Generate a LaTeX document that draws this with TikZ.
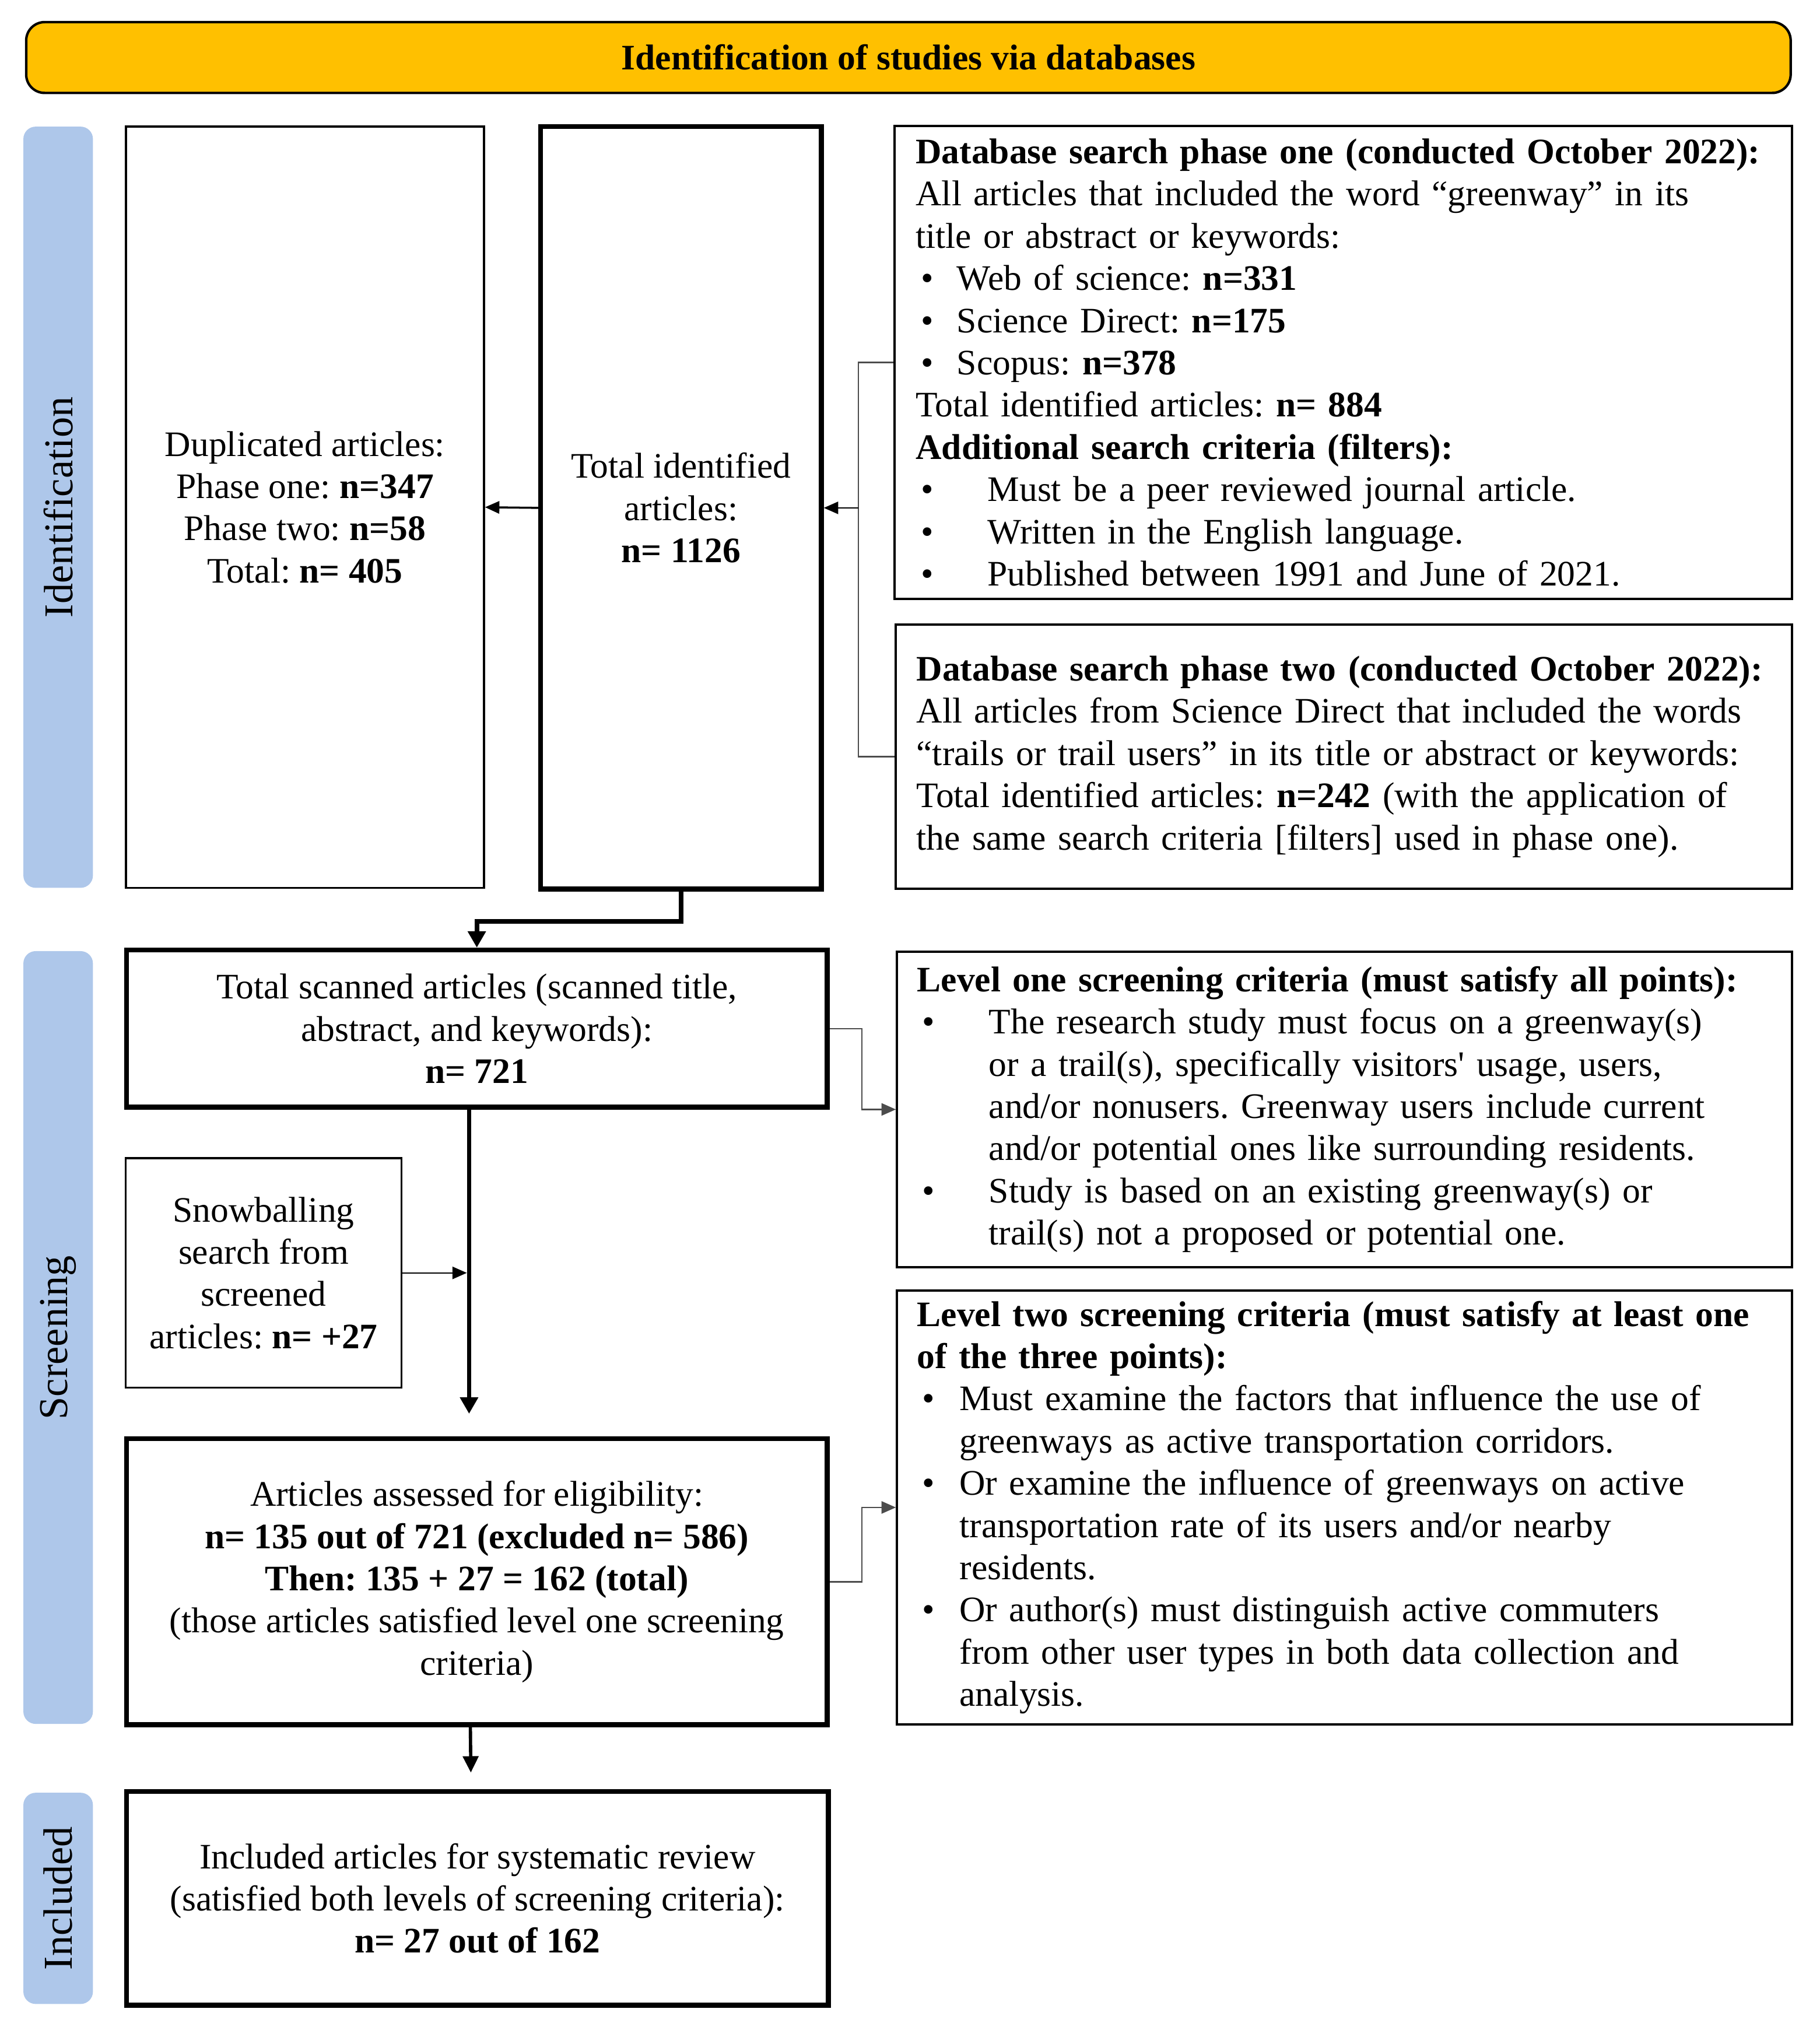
\documentclass[tikz,border=0pt]{standalone}
\usepackage{fontspec}
\setmainfont{Liberation Serif}
\usepackage{tikz}
\usetikzlibrary{calc}
\usetikzlibrary{arrows.meta}
\definecolor{headgold}{RGB}{255,192,0}
\definecolor{stageblue}{RGB}{174,199,234}
\newcommand{\fs}{\fontsize{17.5}{20.6}\selectfont\frenchspacing}
\newcommand{\stagefs}{\fontsize{20}{22}\selectfont}
\newcommand{\bul}[2]{\par\noindent\hangindent=#1\hangafter=1\makebox[#1][l]{\hspace{2.5pt}\textbullet}#2\par}

\begin{document}
\begin{tikzpicture}[x=0.02216cm, y=-0.02216cm,
  box/.style={draw, line width=1pt, inner sep=0pt, align=center, font=\fs},
  heavybox/.style={box, line width=2.4pt},
  listbox/.style={box, line width=1.1pt, text width=417pt, align=left},
  headbar/.style={draw, line width=1.2pt, fill=headgold, rounded corners=9pt, inner sep=0pt, font=\fs\bfseries},
  stage/.style={fill=stageblue, rounded corners=6pt, rotate=90, inner sep=0pt, font=\stagefs},
  link/.style={draw=black!70, line width=0.7pt},
  linkarrow/.style={-{Triangle[length=7pt,width=6pt]}},
  heavyline/.style={line width=2.2pt, -{Triangle[length=8pt,width=8.5pt]}}]
\def\px{0.6283pt}
\useasboundingbox (0,0) rectangle (1408,1576.3);
% Header bar
\node[headbar, minimum width=1370*\px, minimum height=55*\px] (head) at (703,44.5) {Identification of studies via databases};
% Stage labels on the left
\node[stage, minimum width=591*\px, minimum height=54*\px] (idlab) at (45,392.5) {Identification};
\node[stage, minimum width=600*\px, minimum height=54*\px] (scrlab) at (45,1035) {Screening};
\node[stage, minimum width=164*\px, minimum height=54*\px] (inclab) at (45,1469) {Included};
% Identification
\node[box, minimum width=278*\px, minimum height=591*\px] (dup) at (236,392.5) {Duplicated articles:\\Phase one: \textbf{n=347}\\Phase two: \textbf{n=58}\\Total: \textbf{n= 405}};
\node[heavybox, minimum width=218*\px, minimum height=592*\px] (tot) at (527,393) {Total identified\\articles:\\\textbf{n= 1126}};
\node[listbox, minimum width=697*\px, minimum height=367*\px] (ph1) at (1039.5,280.5) {%
\textbf{Database search phase one (conducted October 2022):}\par
All articles that included the word ``greenway'' in its\par
title or abstract or keywords:\par
\bul{20pt}{Web of science: \textbf{n=331}}
\bul{20pt}{Science Direct: \textbf{n=175}}
\bul{20pt}{Scopus: \textbf{n=378}}
Total identified articles: \textbf{n= 884}\par
\textbf{Additional search criteria (filters):}\par
\bul{35pt}{Must be a peer reviewed journal article.}
\bul{35pt}{Written in the English language.}
\bul{35pt}{Published between 1991 and June of 2021.}};
\node[listbox, minimum width=696*\px, minimum height=205*\px] (ph2) at (1040,585.5) {%
\textbf{Database search phase two (conducted October 2022):}\par
All articles from Science Direct that included the words\par
``trails or trail users'' in its title or abstract or keywords:\par
Total identified articles: \textbf{n=242} (with the application of\par
the same search criteria [filters] used in phase one).};
% Screening
\node[heavybox, minimum width=544*\px, minimum height=122*\px] (scan) at (369,796) {Total scanned articles (scanned title,\\abstract, and keywords):\\\textbf{n= 721}};
\node[listbox, minimum width=695*\px, minimum height=245*\px] (lv1) at (1040.5,858.5) {%
\textbf{Level one screening criteria (must satisfy all points):}\par
\bul{35pt}{The research study must focus on a greenway(s)\newline or a trail(s), specifically visitors\textquotesingle\ usage, users,\newline and/or nonusers. Greenway users include current\newline and/or potential ones like surrounding residents.}
\bul{35pt}{Study is based on an existing greenway(s) or\newline trail(s) not a proposed or potential one.}};
\node[box, minimum width=214*\px, minimum height=178*\px] (snow) at (204,985) {Snowballing\\search from\\screened\\articles: \textbf{n= +27}};
\node[heavybox, minimum width=544*\px, minimum height=222*\px] (ass) at (369,1224) {Articles assessed for eligibility:\\\textbf{n= 135 out of 721 (excluded n= 586)}\\\textbf{Then: 135 + 27 = 162 (total)}\\(those articles satisfied level one screening\\criteria)};
\node[listbox, minimum width=695*\px, minimum height=337*\px] (lv2) at (1040.5,1166.5) {%
\textbf{Level two screening criteria (must satisfy at least one\newline of the three points):}\par
\bul{20.7pt}{Must examine the factors that influence the use of\newline greenways as active transportation corridors.}
\bul{20.7pt}{Or examine the influence of greenways on active\newline transportation rate of its users and/or nearby\newline residents.}
\bul{20.7pt}{Or author(s) must distinguish active commuters\newline from other user types in both data collection and\newline analysis.}};
% Included
\node[heavybox, minimum width=545*\px, minimum height=166*\px] (inc) at (369.5,1469) {Included articles for systematic review\\(satisfied both levels of screening criteria):\\\textbf{n= 27 out of 162}};
% Connectors
\draw[link, draw=black, line width=1pt, linkarrow] (tot.west) -- (dup.east);
\draw[link] (ph1.west) -- ++(-27,0) coordinate (joinid) |- (ph2.west);
\draw[link, draw=black, linkarrow] (joinid |- tot.east) -- (tot.east);
\draw[heavyline] (tot.south) -- ++(0,23) -| (scan.north);
\draw[link, linkarrow] (scan.east) -- ++(25,0) |- (lv1.west);
\coordinate (spine) at ($(scan.south)+(-6,0)$);
\draw[heavyline, shorten >=11pt] (spine) -- (spine |- ass.north);
\draw[link, draw=black, linkarrow, shorten >=1.1pt] (snow.east) -- (snow.east -| spine);
\draw[link, linkarrow] (ass.east) -- ++(25,0) |- (lv2.west);
\draw[line width=1.6pt, -{Triangle[length=8pt,width=7.5pt]}, shorten >=8pt] ($(ass.south)+(-5,0)$) -- ($(inc.north)+(-5,0)$);
\end{tikzpicture}
\end{document}
